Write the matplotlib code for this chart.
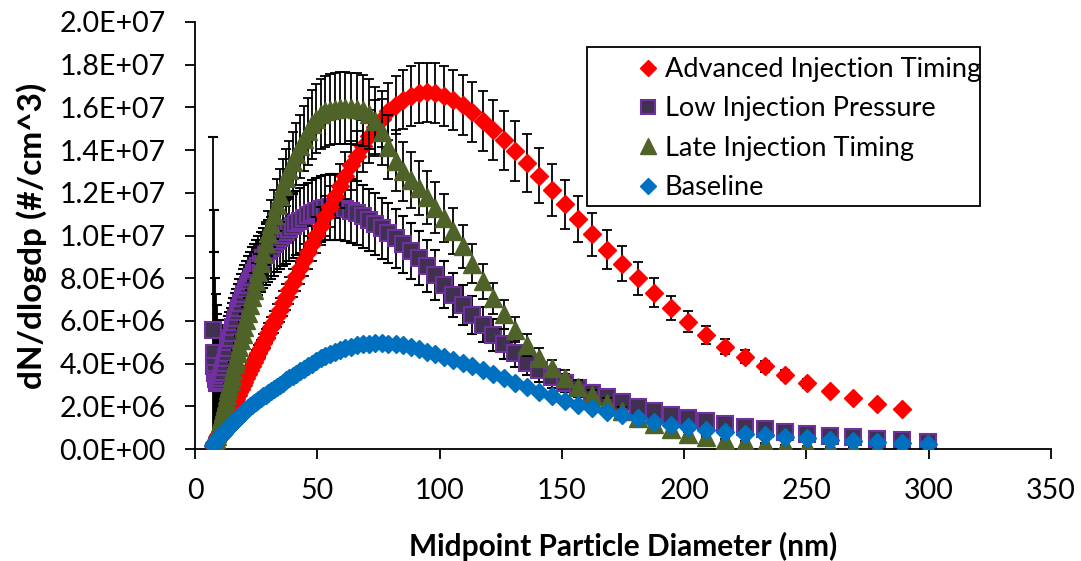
import matplotlib
matplotlib.use("Agg")
import matplotlib.pyplot as plt
import numpy as np
from matplotlib.patches import Rectangle
from matplotlib.ticker import FuncFormatter, MultipleLocator

plt.rcParams['font.family'] = ['Lato', 'DejaVu Sans']

# SMPS midpoint diameters (nm)
diam = np.array([
    7.37, 7.64, 7.91, 8.20, 8.51, 8.82, 9.14, 9.47, 9.82, 10.2,
    10.6, 10.9, 11.3, 11.8, 12.2, 12.6, 13.1, 13.6, 14.1, 14.6,
    15.1, 15.7, 16.3, 16.8, 17.5, 18.1, 18.8, 19.5, 20.2, 20.9,
    21.7, 22.5, 23.3, 24.1, 25.0, 25.9, 26.9, 27.9, 28.9, 30.0,
    31.1, 32.2, 33.4, 34.6, 35.9, 37.2, 38.5, 40.0, 41.4, 42.9,
    44.5, 46.1, 47.8, 49.6, 51.4, 53.3, 55.2, 57.3, 59.4, 61.5,
    63.8, 66.1, 68.5, 71.0, 73.7, 76.4, 79.1, 82.0, 85.1, 88.2,
    91.4, 94.7, 98.2, 101.8, 105.5, 109.4, 113.4, 117.6, 121.9, 126.3,
    131.0, 135.8, 140.7, 145.9, 151.2, 156.8, 162.5, 168.5, 174.7, 181.1,
    187.7, 194.6, 201.7, 209.1, 216.7, 224.7, 232.9, 241.4, 250.3, 259.5,
    269.0, 278.8, 289.0, 299.6])

# dN/dlogdp in units of 1e6 #/cm^3
advanced = np.array([
    0.15, 0.21, 0.28, 0.34, 0.42, 0.49, 0.56, 0.64, 0.72, 0.81,
    0.91, 0.98, 1.07, 1.19, 1.28, 1.37, 1.49, 1.61, 1.72, 1.84,
    1.96, 2.10, 2.24, 2.36, 2.52, 2.66, 2.82, 2.99, 3.15, 3.32,
    3.50, 3.69, 3.88, 4.06, 4.28, 4.49, 4.72, 4.95, 5.19, 5.45,
    5.70, 5.96, 6.24, 6.52, 6.83, 7.13, 7.43, 7.79, 8.11, 8.46,
    8.84, 9.21, 9.61, 10.03, 10.45, 10.90, 11.34, 11.83, 12.32, 12.80,
    13.28, 13.74, 14.20, 14.65, 15.08, 15.47, 15.82, 16.12, 16.37, 16.55,
    16.66, 16.70, 16.66, 16.55, 16.36, 16.10, 15.78, 15.38, 14.93, 14.45,
    13.95, 13.40, 12.80, 12.15, 11.46, 10.76, 10.05, 9.33, 8.67, 8.00,
    7.32, 6.60, 5.96, 5.35, 4.80, 4.32, 3.87, 3.47, 3.08, 2.70,
    2.38, 2.10, 1.86])
advanced_err = np.array([
    0.01, 0.02, 0.02, 0.03, 0.04, 0.04, 0.05, 0.05, 0.06, 0.07,
    0.08, 0.08, 0.09, 0.10, 0.11, 0.12, 0.13, 0.14, 0.15, 0.16,
    0.17, 0.18, 0.19, 0.20, 0.21, 0.23, 0.24, 0.25, 0.27, 0.28,
    0.30, 0.31, 0.33, 0.35, 0.36, 0.38, 0.40, 0.42, 0.44, 0.46,
    0.48, 0.51, 0.53, 0.55, 0.58, 0.61, 0.63, 0.66, 0.69, 0.72,
    0.75, 0.78, 0.82, 0.85, 0.89, 0.93, 0.96, 1.01, 1.05, 1.09,
    1.13, 1.17, 1.21, 1.25, 1.28, 1.31, 1.34, 1.37, 1.39, 1.40,
    1.40, 1.40, 1.40, 1.40, 1.40, 1.40, 1.40, 1.40, 1.40, 1.40,
    1.40, 1.35, 1.28, 1.22, 1.15, 1.08, 1.00, 0.92, 0.82, 0.78,
    0.68, 0.58, 0.50, 0.42, 0.34, 0.30, 0.25, 0.22, 0.20, 0.18,
    0.16, 0.14, 0.12])

low_pressure = np.array([
    5.57, 4.48, 3.90, 3.55, 3.30, 3.15, 3.08, 3.08, 3.12, 3.20,
    3.32, 3.45, 3.62, 3.85, 4.05, 4.25, 4.50, 4.75, 5.00, 5.22,
    5.45, 5.70, 5.95, 6.15, 6.40, 6.62, 6.86, 7.08, 7.28, 7.48,
    7.69, 7.89, 8.07, 8.24, 8.42, 8.59, 8.77, 8.94, 9.10, 9.27,
    9.43, 9.58, 9.74, 9.89, 10.04, 10.18, 10.31, 10.45, 10.58, 10.70,
    10.83, 10.95, 11.06, 11.16, 11.24, 11.30, 11.33, 11.33, 11.30, 11.24,
    11.15, 11.04, 10.90, 10.74, 10.55, 10.34, 10.12, 9.87, 9.58, 9.28,
    8.95, 8.58, 8.15, 7.70, 7.22, 6.74, 6.28, 5.82, 5.36, 4.92,
    4.48, 4.05, 3.68, 3.35, 3.08, 2.85, 2.63, 2.42, 2.20, 1.98,
    1.78, 1.60, 1.45, 1.30, 1.17, 1.04, 0.92, 0.80, 0.70, 0.62,
    0.54, 0.47, 0.40, 0.33])
low_pressure_err = np.array([
    9.05, 6.70, 5.35, 4.45, 3.95, 3.60, 3.25, 2.95, 2.65, 2.40,
    2.20, 2.02, 1.88, 1.76, 1.66, 1.58, 1.52, 1.47, 1.43, 1.40,
    1.38, 1.36, 1.35, 1.34, 1.33, 1.33, 1.33, 1.33, 1.33, 1.34,
    1.35, 1.36, 1.37, 1.38, 1.39, 1.40, 1.41, 1.42, 1.43, 1.44,
    1.45, 1.46, 1.47, 1.48, 1.49, 1.50, 1.50, 1.51, 1.51, 1.52,
    1.52, 1.53, 1.53, 1.53, 1.53, 1.53, 1.53, 1.53, 1.52, 1.52,
    1.51, 1.50, 1.48, 1.46, 1.44, 1.42, 1.40, 1.37, 1.34, 1.30,
    1.26, 1.21, 1.15, 1.09, 1.02, 0.95, 0.88, 0.81, 0.75, 0.69,
    0.63, 0.57, 0.52, 0.47, 0.43, 0.40, 0.37, 0.34, 0.31, 0.28,
    0.25, 0.22, 0.20, 0.18, 0.16, 0.15, 0.13, 0.11, 0.10, 0.09,
    0.08, 0.07, 0.06, 0.05])

late = np.array([
    0.05, 0.10, 0.20, 0.32, 0.45, 0.59, 0.74, 0.89, 1.04, 1.22,
    1.40, 1.53, 1.71, 1.94, 2.12, 2.30, 2.52, 2.75, 2.97, 3.20,
    3.42, 3.69, 3.96, 4.19, 4.50, 4.77, 5.09, 5.40, 5.72, 6.03,
    6.39, 6.75, 7.11, 7.47, 7.88, 8.28, 8.73, 9.18, 9.63, 10.10,
    10.55, 10.98, 11.43, 11.86, 12.30, 12.70, 13.07, 13.46, 13.81, 14.17,
    14.53, 14.88, 15.20, 15.48, 15.68, 15.82, 15.90, 15.94, 15.96, 15.96,
    15.95, 15.92, 15.86, 15.70, 15.35, 14.85, 14.15, 13.50, 13.00, 12.60,
    12.22, 11.80, 11.30, 10.82, 10.20, 9.50, 8.68, 7.85, 7.05, 6.30,
    5.58, 4.88, 4.28, 3.78, 3.33, 2.92, 2.52, 2.15, 1.80, 1.47,
    1.18, 0.93, 0.72, 0.56, 0.43, 0.33, 0.25, 0.19, 0.14, 0.10,
    0.07, 0.05, 0.04, 0.03])
late_err = np.array([
    0.01, 0.01, 0.02, 0.03, 0.05, 0.06, 0.08, 0.09, 0.11, 0.13,
    0.15, 0.16, 0.18, 0.20, 0.22, 0.24, 0.26, 0.29, 0.31, 0.34,
    0.36, 0.39, 0.42, 0.44, 0.47, 0.50, 0.53, 0.57, 0.60, 0.63,
    0.67, 0.71, 0.75, 0.78, 0.83, 0.87, 0.92, 0.96, 1.01, 1.06,
    1.11, 1.15, 1.20, 1.25, 1.29, 1.33, 1.37, 1.41, 1.45, 1.49,
    1.53, 1.56, 1.60, 1.63, 1.65, 1.66, 1.67, 1.67, 1.68, 1.68,
    1.67, 1.67, 1.67, 1.65, 1.61, 1.56, 1.49, 1.42, 1.37, 1.32,
    1.28, 1.24, 1.19, 1.14, 1.07, 1.00, 0.91, 0.82, 0.74, 0.66,
    0.59, 0.51, 0.45, 0.40, 0.35, 0.31, 0.26, 0.23, 0.19, 0.15,
    0.12, 0.10, 0.08, 0.06, 0.05, 0.03, 0.03, 0.02, 0.01, 0.01,
    0.01, 0.01, 0.00, 0.00])

baseline = np.array([
    0.20, 0.25, 0.30, 0.34, 0.38, 0.42, 0.46, 0.50, 0.54, 0.58,
    0.63, 0.67, 0.72, 0.77, 0.82, 0.87, 0.93, 0.99, 1.05, 1.11,
    1.17, 1.24, 1.31, 1.38, 1.46, 1.53, 1.61, 1.69, 1.77, 1.85,
    1.93, 2.01, 2.08, 2.15, 2.22, 2.30, 2.38, 2.46, 2.54, 2.63,
    2.72, 2.81, 2.91, 3.01, 3.11, 3.21, 3.31, 3.42, 3.53, 3.64,
    3.76, 3.88, 4.00, 4.12, 4.24, 4.35, 4.46, 4.56, 4.65, 4.73,
    4.80, 4.86, 4.91, 4.94, 4.96, 4.96, 4.94, 4.91, 4.86, 4.79,
    4.70, 4.55, 4.45, 4.32, 4.18, 4.04, 3.88, 3.70, 3.51, 3.31,
    3.10, 2.89, 2.68, 2.47, 2.27, 2.08, 1.91, 1.75, 1.58, 1.43,
    1.28, 1.14, 1.02, 0.91, 0.81, 0.72, 0.64, 0.57, 0.50, 0.43,
    0.37, 0.32, 0.27, 0.23])

labels = ['Advanced Injection Timing', 'Low Injection Pressure',
          'Late Injection Timing', 'Baseline']

fig = plt.figure(figsize=(10.81, 5.61), dpi=100)
ax = fig.add_axes([195/1081, 1-449/561, (1051-195)/1081, (449-22)/561])

eb_kw = dict(ecolor='black', elinewidth=1.3, capsize=3.8, capthick=1.3, linestyle='none')

h_adv = ax.errorbar(diam[:len(advanced)], advanced*1e6, yerr=advanced_err*1e6, fmt='D',
                    ms=9, color='#FF0000', mec='#FF0000', zorder=3, **eb_kw)
h_low = ax.errorbar(diam, low_pressure*1e6, yerr=low_pressure_err*1e6, fmt='s',
                    ms=11.5, color='#403151', mec='#7030A0', mew=1.5, zorder=2, **eb_kw)
h_late = ax.errorbar(diam, late*1e6, yerr=late_err*1e6, fmt='^',
                     ms=13, color='#4F6228', mec='#4F6228', zorder=4, **eb_kw)
h_base, = ax.plot(diam, baseline*1e6, 'D', ms=9, color='#0070C0', mec='#0070C0',
                  linestyle='none', zorder=5)

ax.set_xlim(0, 350)
ax.set_ylim(0, 2e7)
ax.xaxis.set_major_locator(MultipleLocator(50))
ax.yaxis.set_major_locator(MultipleLocator(2e6))
ax.yaxis.set_major_formatter(FuncFormatter(lambda v, p: f"{v:.1E}"))
ax.spines['top'].set_visible(False)
ax.spines['right'].set_visible(False)
for s in ['left', 'bottom']:
    ax.spines[s].set_linewidth(1.3)
ax.tick_params(direction='out', length=7, width=1.3, labelsize=20.5, pad=14)

ax.set_xlabel('Midpoint Particle Diameter (nm)', fontsize=21.5, fontweight='bold', labelpad=20)
ax.set_ylabel('dN/dlogdp (#/cm^3)', fontsize=24, fontweight='bold', labelpad=9)

# legend: box drawn separately so the padding matches
fig.patches.append(Rectangle((587/1081, 1-206/561), (980-587)/1081, (206-47)/561,
                             transform=fig.transFigure, facecolor='white',
                             edgecolor='black', linewidth=1.3, zorder=10))
leg = fig.legend([h_adv[0], h_low[0], h_late[0], h_base], labels,
                 loc='upper left', bbox_to_anchor=(637/1081, 1-57/561),
                 frameon=False, fontsize=19.5, handlelength=0.8, handletextpad=0.23,
                 labelspacing=0.53, borderpad=0, borderaxespad=0, numpoints=1,
                 markerscale=0.85)
leg.set_zorder(11)

fig.savefig('out.png', dpi=100)
